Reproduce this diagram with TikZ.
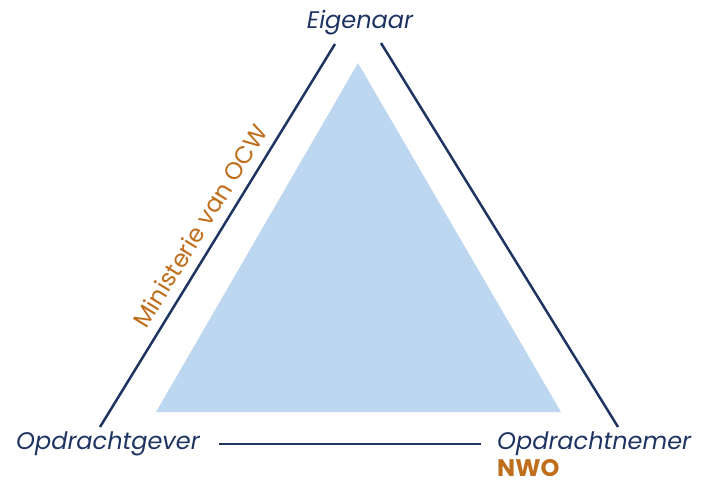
\documentclass[tikz,border=0pt]{standalone}
\usepackage{fontspec}
\setmainfont{Poppins}
\definecolor{navy}{HTML}{1F3461}
\definecolor{ocwor}{HTML}{BF6E1B}
\definecolor{lblue}{HTML}{BDD7F0}
\begin{document}
\begin{tikzpicture}[x=1pt,y=-1pt,
  lbl/.style={font=\fontsize{24}{28}\selectfont\itshape, text=navy, inner sep=0pt},
  org/.style={font=\fontsize{24}{28}\selectfont, text=ocwor, inner sep=0pt},
  edge/.style={draw=navy, line width=2.5pt}]
\useasboundingbox (0,0) rectangle (714,482);
\fill[lblue] (358,63) -- (561,412) -- (156,412) -- cycle;
\node[lbl] (eig) at (360,23) {Eigenaar};
\node[lbl, anchor=west] (gev) at (16,444) {Opdrachtgever};
\node[lbl, anchor=west] (nem) at (497,444) {Opdrachtnemer};
\node[org, font=\fontsize{24}{28}\selectfont\bfseries, anchor=west] (nwo) at (497,468) {NWO};
\coordinate (tl) at (335,44);
\coordinate (bl) at (100,427);
\coordinate (tr) at (381,43);
\coordinate (br) at (618,427);
\coordinate (hl) at (219,444);
\coordinate (hr) at (481,444);
\draw[edge] (tl) -- (bl);
\draw[edge] (tr) -- (br);
\draw[edge] (hl) -- (hr);
\node[org, rotate=58.4] (ocw) at (200,226) {Ministerie van OCW};
\end{tikzpicture}
\end{document}
